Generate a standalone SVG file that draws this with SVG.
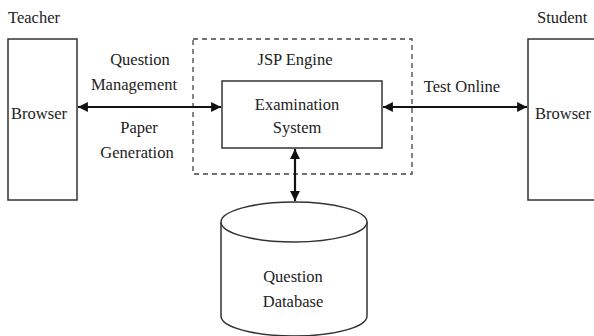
<svg xmlns="http://www.w3.org/2000/svg" width="594" height="336" viewBox="0 0 594 336">
<style>
text{font-family:"Liberation Serif","Times New Roman",serif;font-size:16.5px;fill:#222}
.box{fill:#fff;stroke:#333;stroke-width:1.5}
.dash{fill:none;stroke:#444;stroke-width:1.3;stroke-dasharray:5,4}
.conn{stroke:#111;stroke-width:2.2;fill:none}
</style>
<defs>
<marker id="ah" viewBox="0 0 10 10" refX="10" refY="5" markerWidth="5" markerHeight="4.5" orient="auto-start-reverse" markerUnits="strokeWidth">
<path d="M0,0 L10,5 L0,10 Z" fill="#111"/>
</marker>
</defs>
<rect width="594" height="336" fill="#fff"/>
<g id="jsp-engine">
<rect class="dash" x="193" y="39" width="219" height="135"/>
<text x="295" y="65" text-anchor="middle">JSP Engine</text>
</g>
<g id="teacher">
<text x="8" y="23">Teacher</text>
<rect class="box" x="8" y="39" width="69" height="161"/>
<text x="39" y="119" text-anchor="middle">Browser</text>
</g>
<g id="student">
<text x="537" y="23">Student</text>
<rect class="box" x="528" y="39" width="80" height="161"/>
<text x="535" y="119">Browser</text>
</g>
<g id="exam">
<rect class="box" x="222" y="81" width="160" height="67"/>
<text x="297" y="110" text-anchor="middle">Examination</text>
<text x="297" y="133" text-anchor="middle">System</text>
</g>
<g id="db">
<path class="box" d="M221,222 L221,316 A73,20 0 0 0 367,316 L367,222"/>
<ellipse class="box" cx="294" cy="222" rx="73" ry="20"/>
<text x="293" y="282" text-anchor="middle">Question</text>
<text x="293" y="307" text-anchor="middle">Database</text>
</g>
<g id="connectors">
<line class="conn" x1="78" y1="107" x2="221" y2="107" marker-start="url(#ah)" marker-end="url(#ah)"/>
<line class="conn" x1="383" y1="107" x2="527" y2="107" marker-start="url(#ah)" marker-end="url(#ah)"/>
<line class="conn" x1="295" y1="149" x2="295" y2="201" marker-start="url(#ah)" marker-end="url(#ah)"/>
<text x="140" y="65" text-anchor="middle">Question</text>
<text x="134" y="90" text-anchor="middle">Management</text>
<text x="139" y="133" text-anchor="middle">Paper</text>
<text x="137" y="158" text-anchor="middle">Generation</text>
<text x="462" y="92" text-anchor="middle">Test Online</text>
</g>
</svg>
